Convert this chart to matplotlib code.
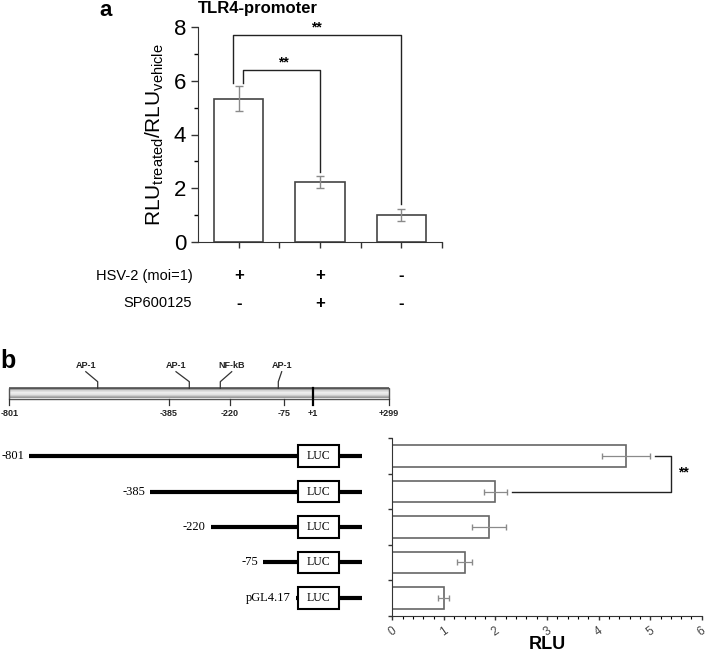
import numpy as np
import matplotlib
matplotlib.use("Agg")
import matplotlib.pyplot as plt
import matplotlib.transforms as mtrans
from matplotlib.patches import Rectangle

plt.rcParams['font.family'] = ['Liberation Sans', 'DejaVu Sans']
plt.rcParams['mathtext.fontset'] = 'custom'
plt.rcParams['mathtext.rm'] = 'Liberation Sans'

# panel a data
groups_a = [1, 2, 3]
ratio_a = [5.33, 2.23, 1.0]
err_a = [0.46, 0.23, 0.21]
hsv2 = ['+', '+', '-']
sp600125 = ['-', '+', '-']

# panel b data
constructs = ['-801', '-385', '-220', '-75', 'pGL4.17']
rlu_b = [4.53, 2.0, 1.88, 1.40, 1.0]
err_b = [0.46, 0.22, 0.33, 0.145, 0.105]

# promoter sites (schematic positions on the drawing)
site_names = ['AP-1', 'AP-1', 'NF-kB', 'AP-1']
site_x = [97.7, 189.3, 220.3, 278.3]
site_lab_x = [85.8, 176, 231.7, 281.7]
pos_labels = ['-801', '-385', '-220', '-75', '+1', '+299']
pos_x = [9.3, 168.7, 230, 284, 312.5, 388.7]
construct_start = [29.3, 150, 210.7, 263.3, 296]

fig = plt.figure(figsize=(7.09, 6.59), dpi=100)

cv = fig.add_axes([0, 0, 1, 1], zorder=0)
cv.set_xlim(0, 709)
cv.set_ylim(659, 0)
cv.axis('off')

edge = '#444444'
ecol = '#8a8a8a'

# ---------------- panel a ----------------
ax = fig.add_axes([198/709, 1-242/659, 244/709, 215/659], zorder=2)
ax.patch.set_alpha(0)
ax.bar(groups_a, ratio_a, width=0.61, color='white', edgecolor=edge, linewidth=1.2)
ax.errorbar(groups_a, ratio_a, yerr=err_a, fmt='none', ecolor=ecol, elinewidth=1, capsize=3)
ax.set_xlim(0.5, 3.5)
ax.set_ylim(0, 8)
ax.set_yticks([0, 2, 4, 6, 8])
ax.set_yticks([1, 3, 5, 7], minor=True)
ax.set_xticks(groups_a)
ax.set_xticks([1.5, 2.5, 3.5], minor=True)
ax.set_xticklabels([])
ax.tick_params(axis='y', labelsize=16, length=5, width=1, color='#333333')
ax.tick_params(axis='y', which='minor', length=3, width=1)
ax.tick_params(axis='x', which='both', length=4, width=1, color='#333333')
for s in ['top', 'right']:
    ax.spines[s].set_visible(False)
for s in ['left', 'bottom']:
    ax.spines[s].set_color('#333333')
ax.set_ylabel(r'RLU$_{\mathregular{treated}}$/RLU$_{\mathregular{vehicle}}$', fontsize=15)
ax.yaxis.set_label_coords(-0.13, 0.5)

# significance brackets
ax.plot([0.93, 0.93, 3.0, 3.0], [5.9, 7.72, 7.72, 1.41], color='#222222', lw=1, clip_on=False)
ax.plot([1.05, 1.05, 2.0, 2.0], [5.9, 6.39, 6.39, 2.61], color='#222222', lw=1, clip_on=False)
ax.text(1.96, 7.74, '**', ha='center', va='bottom', fontsize=10, fontweight='bold')
ax.text(1.55, 6.41, '**', ha='center', va='bottom', fontsize=10, fontweight='bold')

# treatment table
tr = mtrans.blended_transform_factory(ax.transData, ax.transAxes)
ax.text(0.43, -0.158, 'HSV-2 (moi=1)', transform=tr, ha='right', va='center', fontsize=10.5)
ax.text(0.43, -0.284, 'SP600125', transform=tr, ha='right', va='center', fontsize=10.5)
for g, h, s in zip(groups_a, hsv2, sp600125):
    ax.text(g, -0.158, h, transform=tr, ha='center', va='center', fontsize=12, fontweight='bold')
    ax.text(g, -0.284, s, transform=tr, ha='center', va='center', fontsize=12, fontweight='bold')

cv.text(258, 8, 'TLR4-promoter', ha='center', va='center', fontsize=12, fontweight='bold')
cv.text(106, 16, 'a', ha='center', va='baseline', fontsize=16, fontweight='bold')
cv.text(0, 368, 'b', ha='left', va='baseline', fontsize=18, fontweight='bold')

# ---------------- panel b schematic ----------------
grad = np.array([0.45, 0.7, 0.85, 0.93, 0.9, 0.8, 0.6]).reshape(-1, 1)
cv.imshow(grad, cmap='gray', vmin=0, vmax=1, aspect='auto',
          extent=[pos_x[0], pos_x[-1], 398.5, 388.3], zorder=1)
cv.add_patch(Rectangle((pos_x[0], 388.3), pos_x[-1]-pos_x[0], 10.2, fill=False,
                       edgecolor='#555555', lw=1, zorder=2))
for x, lab in zip(pos_x, pos_labels):
    if lab == '+1':
        cv.plot([x, x], [388.3, 405], color='black', lw=1.6, zorder=3)
    else:
        cv.plot([x, x], [398.5, 405], color='#333333', lw=0.9, zorder=3)
    cv.text(x, 413, lab, ha='center', va='center', fontsize=6.5, fontweight='bold', color='#222222')
for x, lx, name in zip(site_x, site_lab_x, site_names):
    cv.plot([x, x, lx], [388.3, 381.7, 371.7], color='#333333', lw=0.9)
    cv.text(lx, 366, name, ha='center', va='center', fontsize=6.5, fontweight='bold', color='#222222')

# ---------------- panel b bars ----------------
axb = fig.add_axes([392.3/709, 1-615.7/659, 309.5/709, 177.4/659], zorder=2)
axb.patch.set_alpha(0)
ypos = np.arange(len(constructs), 0, -1)
axb.barh(ypos, rlu_b, height=0.6, color='white', edgecolor='#666666', linewidth=1.2)
axb.errorbar(rlu_b, ypos, xerr=err_b, fmt='none', ecolor=ecol, elinewidth=0.9, capsize=2)
axb.set_xlim(0, 6)
axb.set_ylim(0.5, 5.5)
axb.set_yticks(np.arange(0.5, 5.6, 1))
axb.set_yticklabels([])
axb.set_xticks(range(7))
axb.set_xticks(np.arange(0, 6.01, 0.2), minor=True)
axb.set_xticklabels([str(i) for i in range(7)], rotation=35, fontsize=8.5, color='#444444')
axb.tick_params(axis='both', length=3, width=1, color='#333333')
axb.tick_params(axis='x', which='minor', length=2, width=0.8)
for s in ['top', 'right']:
    axb.spines[s].set_visible(False)
for s in ['left', 'bottom']:
    axb.spines[s].set_color('#333333')
axb.set_xlabel('RLU', fontsize=13, fontweight='bold')
axb.xaxis.set_label_coords(0.5, -0.16)
axb.xaxis.label.set_va('center')
axb.plot([5.1, 5.41, 5.41, 2.32], [5, 5, 4, 4], color='#222222', lw=1, clip_on=False)
axb.text(5.64, 4.55, '**', ha='center', va='center', fontsize=10, fontweight='bold')

# constructs, y follows the bar rows
tb = mtrans.blended_transform_factory(cv.transData, axb.transData)
for y, x0, name in zip(ypos, construct_start, constructs):
    cv.plot([x0, 362.3], [y, y], color='black', lw=3, solid_capstyle='butt', transform=tb)
    cv.add_patch(Rectangle((298.3, y-0.3), 40.4, 0.6, facecolor='white', edgecolor='black',
                           lw=1.5, transform=tb, zorder=3))
    cv.text(318.5, y, 'LUC', ha='center', va='center', fontsize=8.5, family='Liberation Serif',
            transform=tb, zorder=4)
    cv.text(x0-5, y, name, ha='right', va='center', fontsize=9, family='Liberation Serif',
            transform=tb)

fig.savefig('out.png', dpi=100)
